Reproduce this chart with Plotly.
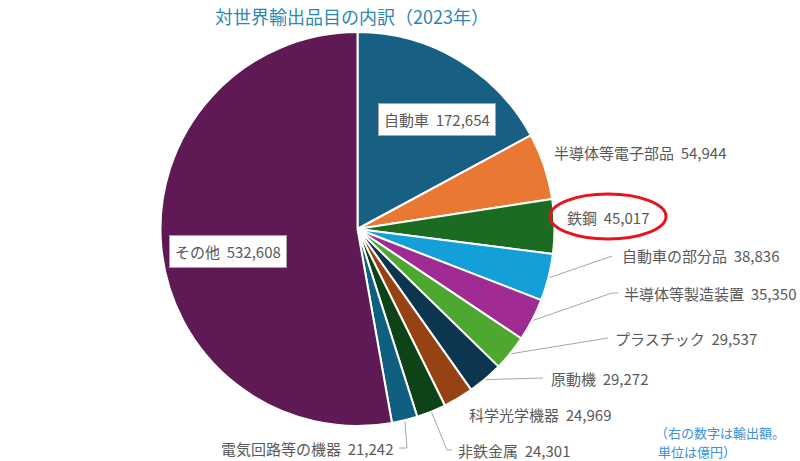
import math
import plotly.graph_objects as go

W, H = 800, 461

categories = ["自動車", "半導体等電子部品", "鉄鋼", "自動車の部分品", "半導体等製造装置",
              "プラスチック", "原動機", "科学光学機器", "非鉄金属", "電気回路等の機器", "その他"]
values = [172654, 54944, 45017, 38836, 35350, 29537, 29272, 24969, 24301, 21242, 532608]
colors = ["#175F83", "#E97833", "#1B6B23", "#13A0D8", "#A02B93", "#4EA72E",
          "#0C364D", "#974212", "#0E4317", "#0F6080", "#5F1A55"]

title_text = "対世界輸出品目の内訳（2023年）"
note_lines = ["（右の数字は輸出額。", "単位は億円）"]

# pie geometry (pixels)
CX, CY, R = 357.5, 229.0, 197.0

def px(x):
    return x / W

def py(y):
    return 1 - y / H

fig = go.Figure(go.Pie(
    labels=categories, values=values, sort=False, direction="clockwise", rotation=0,
    marker=dict(colors=colors, line=dict(color="white", width=2)),
    textinfo="none", hoverinfo="label+value", showlegend=False,
    domain=dict(x=[px(CX - R), px(CX + R)], y=[py(CY + R), py(CY - R)]),
))

total = sum(values)
cum = 0
mids = []
for v in values:
    mids.append((cum + v / 2) / total * 2 * math.pi)
    cum += v

def edge(i, extra=2):
    a = mids[i]
    return CX + (R + extra) * math.sin(a), CY - (R + extra) * math.cos(a)

label_pos = {
    0: dict(x=437, y=119, xa="center", box=True),
    1: dict(x=552, y=152, xa="left"),
    2: dict(x=565, y=217, xa="left"),
    3: dict(x=620, y=255, xa="left", lead=[(612, 256)]),
    4: dict(x=622, y=293, xa="left", lead=[(612, 293), (618, 293)]),
    5: dict(x=613, y=338, xa="left", lead=[(608, 338)]),
    6: dict(x=549, y=378, xa="left", lead=[(543, 378)]),
    7: dict(x=467, y=414, xa="left"),
    8: dict(x=456, y=450, xa="left", lead=[(447, 450), (452, 450)]),
    9: dict(x=396, y=448, xa="right", lead=[(407, 448), (399, 448)]),
    10: dict(x=228, y=252, xa="center", box=True),
}

label_font = dict(family="Noto Sans CJK JP", size=15, color="#595959")
annotations = []
shapes = []
for i, cat in enumerate(categories):
    p = label_pos[i]
    txt = f"{cat}\u00a0\u00a0{values[i]:,}"
    ann = dict(x=px(p["x"]), y=py(p["y"]), xref="paper", yref="paper", text=txt,
               showarrow=False, xanchor=p["xa"], yanchor="middle", font=label_font)
    if p.get("box"):
        ann.update(bgcolor="white", bordercolor="#A6A6A6", borderwidth=1, borderpad=5)
    annotations.append(ann)
    if "lead" in p:
        pts = [edge(i, 1)] + p["lead"]
        path = "M " + " L ".join(f"{px(x)},{py(y)}" for x, y in pts)
        shapes.append(dict(type="path", xref="paper", yref="paper", path=path,
                           line=dict(color="#A6A6A6", width=1)))

shapes.append(dict(type="circle", xref="paper", yref="paper",
                   x0=px(550), x1=px(666), y0=py(239), y1=py(194),
                   line=dict(color="#E8141B", width=3)))

annotations.append(dict(x=px(352), y=py(16), xref="paper", yref="paper", text=title_text,
                        showarrow=False, xanchor="center", yanchor="middle",
                        font=dict(family="Noto Sans CJK JP", size=18, color="#2C88B0")))
for k, (line, yy, xx) in enumerate(zip(note_lines, [432, 451], [653, 656])):
    annotations.append(dict(x=px(xx), y=py(yy), xref="paper", yref="paper", text=line,
                            showarrow=False, xanchor="left", yanchor="middle",
                            font=dict(family="Noto Sans CJK JP", size=13, color="#3C8FDB")))

fig.update_layout(
    width=W, height=H, margin=dict(l=0, r=0, t=0, b=0),
    paper_bgcolor="white", plot_bgcolor="white",
    annotations=annotations, shapes=shapes,
)

fig.write_html("out.html")
